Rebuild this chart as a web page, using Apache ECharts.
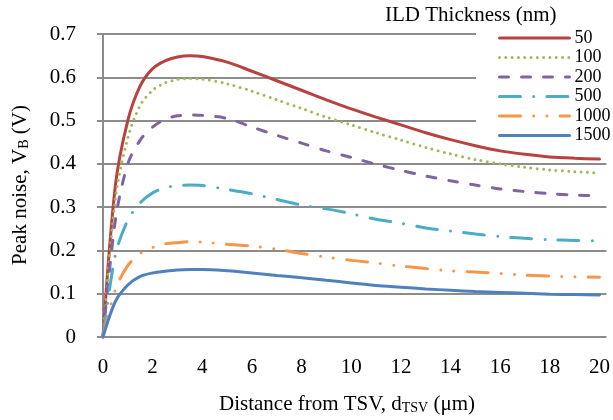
<!DOCTYPE html>
<html>
<head>
<meta charset="utf-8">
<script src="https://cdn.jsdelivr.net/npm/echarts@6/dist/echarts.min.js"></script>
<style>html,body{margin:0;padding:0;background:#fff;}#c{width:613px;height:420px;}</style>
</head>
<body>
<div id="c"></div>
<script>
const xValues = [0,0.5,1,1.5,2,2.5,3,3.5,4,5,6,7,8,9,10,11,12,13,14,15,16,17,18,19,20];
const seriesNames = ['50','100','200','500','1000','1500'];
const v50   = [0,0.35,0.50,0.58,0.62,0.638,0.647,0.65,0.648,0.635,0.614,0.592,0.57,0.548,0.527,0.508,0.49,0.472,0.456,0.442,0.43,0.422,0.416,0.413,0.411];
const v100  = [0,0.32,0.46,0.535,0.57,0.587,0.595,0.597,0.596,0.585,0.568,0.548,0.528,0.508,0.49,0.472,0.455,0.438,0.423,0.41,0.4,0.392,0.386,0.382,0.379];
const v200  = [0,0.27,0.40,0.455,0.485,0.503,0.511,0.513,0.512,0.505,0.485,0.466,0.448,0.43,0.415,0.399,0.385,0.372,0.361,0.351,0.342,0.336,0.331,0.328,0.326];
const v500  = [0,0.19,0.27,0.31,0.333,0.345,0.35,0.351,0.35,0.341,0.331,0.318,0.305,0.296,0.285,0.272,0.263,0.252,0.245,0.238,0.232,0.228,0.225,0.223,0.222];
const v1000 = [0,0.11,0.165,0.193,0.207,0.215,0.218,0.22,0.219,0.214,0.21,0.203,0.193,0.185,0.177,0.171,0.164,0.158,0.153,0.15,0.147,0.143,0.141,0.139,0.138];
const v1500 = [0,0.082,0.12,0.14,0.148,0.152,0.155,0.156,0.156,0.153,0.148,0.142,0.137,0.131,0.125,0.119,0.115,0.111,0.108,0.105,0.103,0.101,0.099,0.098,0.097];
const xTickLabels = [0,2,4,6,8,10,12,14,16,18,20];
const yTickLabels = [0,0.1,0.2,0.3,0.4,0.5,0.6,0.7];

const allValues = [v50, v100, v200, v500, v1000, v1500];
const colors = ['#B8423F','#9BBB59','#8064A2','#4BACC6','#F79646','#4F81BD'];
const dashes = ['solid',[0,6.3],[9,13],[21,13.2,0,13.2],[21,13.2,0,13.2,0,13.2],'solid'];
const FONT = '"Liberation Serif", "Times New Roman", serif';

const chart = echarts.init(document.getElementById('c'), null, {renderer:'canvas'});
const series = seriesNames.map((n, i) => ({
  name: n,
  type: 'line',
  smooth: 0.3,
  symbol: 'none',
  animation: false,
  data: xValues.map((x, j) => [x, allValues[i][j]]),
  lineStyle: {color: colors[i], width: 3, type: dashes[i], cap: 'round'},
  itemStyle: {color: colors[i]}
}));

chart.setOption({
  animation: false,
  backgroundColor: '#fff',
  grid: {left: 98, right: 5, top: 34, bottom: 83},
  xAxis: {
    type: 'value', min: -0.2, max: 20.28,
    axisLine: {show: false}, axisTick: {show: false}, splitLine: {show: false},
    axisLabel: {customValues: xTickLabels, color: '#000', fontFamily: FONT, fontSize: 21, margin: 20}
  },
  yAxis: {
    type: 'value', min: 0, max: 0.7, interval: 0.1,
    axisLine: {show: true, lineStyle: {color: '#8C8C8C', width: 2}},
    axisTick: {show: true, length: 6, lineStyle: {color: '#8C8C8C', width: 2}},
    splitLine: {show: true, lineStyle: {color: '#8C8C8C', width: 2}},
    axisLabel: {color: '#000', fontFamily: FONT, fontSize: 21, margin: 22,
      formatter: v => (Math.round(v*10)/10).toString()}
  },
  legend: {
    orient: 'vertical', left: 498, top: 29,
    padding: 0,
    itemWidth: 70, itemHeight: 14, itemGap: 1.5,
    data: seriesNames,
    lineStyle: {cap: 'round', width: 3},
    itemStyle: {opacity: 0},
    textStyle: {fontFamily: FONT, fontSize: 18, color: '#000', padding: [0,0,0,0]}
  },
  graphic: [
    {type: 'rect', z: 1, silent: true,
     shape: {x: 476, y: 0, width: 137, height: 141},
     style: {fill: '#fff'}},
    {type: 'text', left: 385, top: 5, z: 100,
     style: {text: 'ILD Thickness (nm)', fontFamily: FONT, fontSize: 21, fill: '#000'}},
    {type: 'text', x: 347, y: 404, z: 100,
     style: {text: 'Distance from TSV, d{sub|TSV} (μm)', fontFamily: FONT, fontSize: 21, fill: '#000',
       align: 'center', verticalAlign: 'middle',
       rich: {sub: {fontFamily: FONT, fontSize: 14, fill: '#000', padding: [9,0,0,0]}}}},
    {type: 'text', x: 20, y: 185, rotation: Math.PI/2, z: 100,
     style: {text: 'Peak noise, V{sub|B} (V)', fontFamily: FONT, fontSize: 21, fill: '#000',
       align: 'center', verticalAlign: 'middle',
       rich: {sub: {fontFamily: FONT, fontSize: 14, fill: '#000', padding: [9,0,0,0]}}}}
  ],
  series: series
});
</script>
</body>
</html>
